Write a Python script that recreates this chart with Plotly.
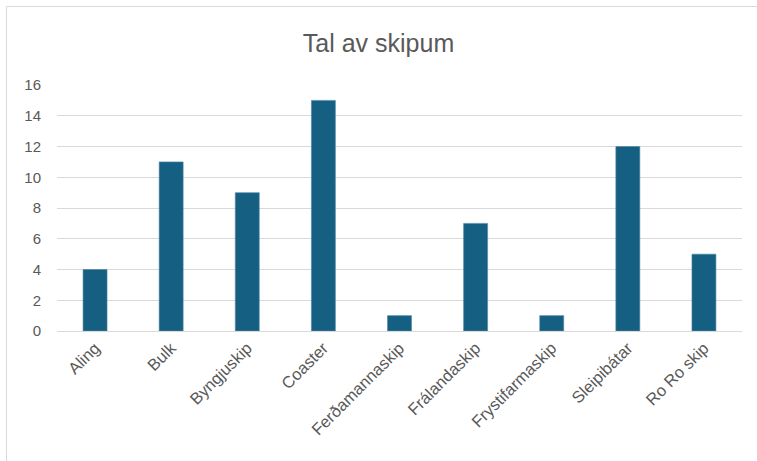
import plotly.graph_objects as go

categories = ["Aling", "Bulk", "Byngjuskip", "Coaster", "Ferðamannaskip",
              "Frálandaskip", "Frystifarmaskip", "Sleipibátar", "Ro Ro skip"]
values = [4, 11, 9, 15, 1, 7, 1, 12, 5]
y_ticks = [0, 2, 4, 6, 8, 10, 12, 14, 16]

W, H = 757, 461
L, T = 57, 85
R = W - 742
B = H - 331
pw, ph = W - L - R, H - T - B

def px_x(px):
    return (px - L) / pw

def px_y(py):
    return (H - B - py) / ph

fig = go.Figure(go.Bar(
    x=categories, y=values,
    marker=dict(color="#156082", line=dict(color="#4f86a6", width=0.6)),
))

fig.update_layout(
    width=W, height=H,
    margin=dict(l=L, r=R, t=T, b=B, autoexpand=False),
    paper_bgcolor="white", plot_bgcolor="white",
    bargap=0.685,
    showlegend=False,
    title=dict(text="Tal av skipum", x=0.5, xanchor="center", y=1 - 43 / H, yanchor="middle",
               font=dict(family="Liberation Sans Narrow, Arial Narrow, Liberation Sans, sans-serif",
                         size=25, color="#595959")),
    font=dict(family="Liberation Sans, Arial, sans-serif", size=15, color="#595959"),
    xaxis=dict(tickangle=-45, showgrid=False, showline=True, linecolor="#d9d9d9", linewidth=1,
               ticks="", tickfont=dict(size=16.5, color="#595959"), automargin=False),
    yaxis=dict(range=[0, 16], tickvals=y_ticks, showgrid=True, gridcolor="#d9d9d9", gridwidth=1,
               zeroline=False, showline=False, ticks="", ticklabelstandoff=15,
               tickfont=dict(size=15, color="#595959"), automargin=False),
    shapes=[dict(type="rect", xref="paper", yref="paper",
                 x0=px_x(6.5), x1=px_x(780), y0=px_y(490), y1=px_y(6.5),
                 line=dict(color="#d9d9d9", width=1), fillcolor="rgba(0,0,0,0)", layer="below")],
)

fig.write_html("out.html",
               config={"displayModeBar": False},
               post_script="document.body.style.margin='0';document.body.style.overflow='hidden';")
